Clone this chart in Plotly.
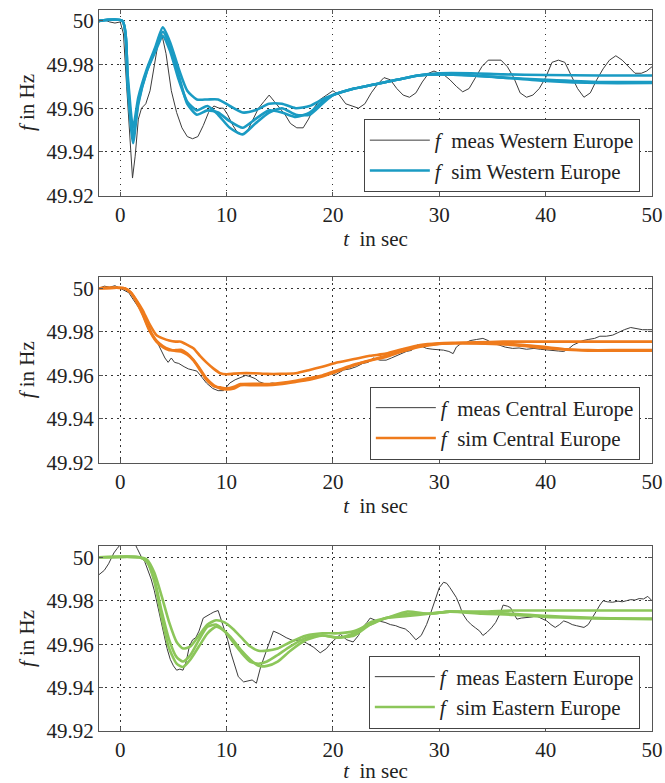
import plotly.graph_objects as go

# ---------------- data ----------------
# Western Europe
t_w_meas = [-2, -1.5, -1, -0.5, 0, 0.3, 0.6, 0.9, 1.15, 1.4, 1.7, 2.0, 2.4, 2.8, 3.2, 3.6, 3.9, 4.3, 4.8, 5.3,
            5.8, 6.3, 6.8, 7.3, 7.8, 8.3, 8.8, 9.3, 9.7, 10.1, 10.6, 11.0, 11.5, 12.0, 12.5, 13.0, 13.5, 14.0,
            14.5, 15.0, 15.5, 16.0, 16.6, 17.2, 17.7, 18.2, 18.8, 19.4, 20.0, 20.6, 21.2, 21.8, 22.4, 23.0,
            23.6, 24.2, 24.8, 25.4, 26.0, 26.6, 27.2, 27.8, 28.4, 29.0, 29.5, 30.0, 30.5, 31.0, 31.6, 32.2,
            32.8, 33.4, 34.0, 34.6, 35.2, 35.8, 36.4, 37.0, 37.6, 38.2, 38.8, 39.4, 40.0, 40.6, 41.2, 41.8,
            42.4, 43.0, 43.6, 44.2, 44.8, 45.4, 46.0, 46.6, 47.2, 47.8, 48.4, 49.0, 49.5, 50.0]
f_w_meas = [49.9995, 50.0005, 49.9995, 49.999, 49.9995, 49.994, 49.970, 49.945, 49.928, 49.938, 49.955, 49.960,
            49.962, 49.968, 49.980, 49.991, 49.994, 49.985, 49.968, 49.958, 49.951, 49.947, 49.946, 49.947,
            49.952, 49.958, 49.961, 49.960, 49.960, 49.957, 49.952, 49.949, 49.948, 49.950, 49.955, 49.960,
            49.963, 49.966, 49.963, 49.960, 49.957, 49.953, 49.951, 49.951, 49.955, 49.960, 49.964, 49.966,
            49.968, 49.966, 49.962, 49.961, 49.960, 49.962, 49.967, 49.971, 49.974, 49.973, 49.969, 49.966,
            49.965, 49.967, 49.972, 49.976, 49.977, 49.976, 49.975, 49.973, 49.970, 49.9675, 49.969, 49.974,
            49.979, 49.982, 49.982, 49.982, 49.979, 49.974, 49.967, 49.965, 49.966, 49.969, 49.974, 49.981,
            49.982, 49.981, 49.975, 49.969, 49.965, 49.967, 49.973, 49.978, 49.982, 49.984, 49.982, 49.979,
            49.976, 49.976, 49.977, 49.979]
t_w_sim = [-2, 0.2, 0.7, 1.2, 1.7, 2.5, 3.3, 4.0, 4.7, 5.5, 6.3, 7.2, 8.2, 9.2, 10.3, 11.5, 12.7, 14.0, 15.2,
           16.5, 17.8, 19, 20, 22, 24, 26, 28, 30, 33, 36, 40, 45, 50]
f_w_sim1 = [50, 50, 49.975, 49.951, 49.965, 49.978, 49.988, 49.997, 49.990, 49.978, 49.968, 49.964, 49.964,
            49.964, 49.961, 49.958, 49.959, 49.962, 49.962, 49.960, 49.961, 49.964, 49.966, 49.969, 49.971,
            49.973, 49.975, 49.976, 49.976, 49.9755, 49.9752, 49.975, 49.975]
f_w_sim2 = [50, 50, 49.970, 49.944, 49.962, 49.977, 49.987, 49.995, 49.988, 49.975, 49.962, 49.957, 49.959,
            49.958, 49.954, 49.951, 49.955, 49.959, 49.958, 49.956, 49.958, 49.963, 49.966, 49.969, 49.971,
            49.973, 49.975, 49.9755, 49.975, 49.974, 49.973, 49.972, 49.972]
f_w_sim3 = [50, 50, 49.972, 49.947, 49.963, 49.977, 49.986, 49.993, 49.986, 49.973, 49.963, 49.959, 49.961,
            49.957, 49.951, 49.948, 49.953, 49.958, 49.960, 49.957, 49.957, 49.962, 49.966, 49.969, 49.971,
            49.973, 49.975, 49.9755, 49.975, 49.974, 49.9725, 49.9715, 49.9715]

# Central Europe
t_c_meas = [-2, -1.5, -1, -0.5, 0, 0.4, 0.8, 1.2, 1.6, 2.1, 2.6, 3.0, 3.5, 3.9, 4.2, 4.5, 4.8, 5.1, 5.5, 6.0,
            6.4, 6.8, 7.2, 7.7, 8.1, 8.7, 9.2, 9.7, 10.3, 10.8, 11.4, 11.8, 12.2, 12.7, 13.1, 13.7, 14.3, 14.9,
            15.6, 16.4, 17.2, 17.8, 18.4, 19.0, 19.7, 20.3, 21.0, 21.6, 22.2, 22.8, 23.3, 23.8, 24.4, 25.0,
            25.5, 26.0, 26.5, 26.9, 27.4, 27.9, 28.3, 28.8, 29.4, 30.0, 30.4, 30.9, 31.3, 31.6, 32.0, 32.5,
            32.9, 33.5, 34.1, 34.6, 35.0, 35.6, 36.2, 36.9, 37.5, 38.2, 38.9, 39.5, 40.2, 40.7, 41.2, 41.7,
            42.1, 42.6, 43.1, 43.5, 44.0, 44.6, 45.1, 45.7, 46.3, 46.9, 47.4, 48.0, 48.5, 49.1, 49.6, 50.0]
f_c_meas = [50.0, 50.001, 50.0005, 50.0012, 50.0, 49.999, 49.998, 49.995, 49.992, 49.9885, 49.984, 49.979,
            49.975, 49.971, 49.968, 49.966, 49.968, 49.966, 49.9655, 49.964, 49.963, 49.9625, 49.962, 49.959,
            49.9565, 49.954, 49.953, 49.953, 49.9565, 49.958, 49.959, 49.960, 49.9595, 49.9585, 49.957, 49.956,
            49.9565, 49.956, 49.957, 49.957, 49.958, 49.9585, 49.9595, 49.960, 49.961, 49.9605, 49.9625,
            49.963, 49.964, 49.9655, 49.966, 49.968, 49.967, 49.967, 49.968, 49.969, 49.970, 49.971, 49.9715,
            49.974, 49.9735, 49.9724, 49.972, 49.9718, 49.9716, 49.971, 49.970, 49.973, 49.9745, 49.975, 49.976,
            49.9765, 49.977, 49.976, 49.9747, 49.974, 49.973, 49.9724, 49.9726, 49.972, 49.9724, 49.972,
            49.9718, 49.9716, 49.9712, 49.971, 49.972, 49.974, 49.975, 49.976, 49.9765, 49.977, 49.978, 49.978,
            49.9785, 49.980, 49.981, 49.982, 49.9815, 49.981, 49.981, 49.981]
t_c_sim = [-2, 0.4, 1.0, 1.6, 2.1, 2.7, 3.4, 4.0, 4.6, 5.2, 5.7, 6.3, 6.9, 7.5, 8.1, 8.8, 9.4, 10.0, 10.7, 11.3,
           12.5, 13.8, 15.0, 16.5, 17.8, 19.0, 20.5, 22.0, 23.5, 25.0, 26.5, 28.2, 30.0, 31.5, 33.5, 36.0,
           38.0, 40.0, 42.0, 44.0, 47.0, 50.0]
f_c_sim1 = [50, 50, 49.998, 49.994, 49.990, 49.984, 49.9785, 49.977, 49.976, 49.9755, 49.9755, 49.974, 49.9724,
            49.969, 49.966, 49.963, 49.961, 49.9605, 49.9608, 49.961, 49.961, 49.9607, 49.9607, 49.961, 49.9625,
            49.964, 49.966, 49.9675, 49.969, 49.970, 49.972, 49.974, 49.9748, 49.975, 49.9752, 49.9755,
            49.9755, 49.9755, 49.9755, 49.9755, 49.9755, 49.9755]
f_c_sim2 = [50, 50, 49.998, 49.993, 49.988, 49.981, 49.9755, 49.973, 49.9716, 49.9716, 49.9718, 49.970, 49.967,
            49.963, 49.9587, 49.9555, 49.954, 49.9535, 49.954, 49.9555, 49.9555, 49.9555, 49.956, 49.957,
            49.958, 49.9595, 49.962, 49.9647, 49.9668, 49.9685, 49.971, 49.9732, 49.9745, 49.9748, 49.9748,
            49.9745, 49.974, 49.973, 49.972, 49.9716, 49.9716, 49.9716]
f_c_sim3 = [50, 50, 49.998, 49.9935, 49.9885, 49.9815, 49.976, 49.9735, 49.972, 49.9712, 49.971, 49.9695,
            49.9668, 49.9625, 49.958, 49.955, 49.9545, 49.954, 49.9548, 49.956, 49.9562, 49.956, 49.9565,
            49.9575, 49.9588, 49.960, 49.9625, 49.965, 49.967, 49.969, 49.9712, 49.9734, 49.9746, 49.9748,
            49.9747, 49.9743, 49.9735, 49.9725, 49.9718, 49.9714, 49.9714, 49.9714]

# Eastern Europe
t_e_meas = [-2, -1.5, -1.1, -0.6, -0.3, 0.2, 0.8, 1.3, 1.6, 2.0, 2.3, 2.6, 2.9, 3.2, 3.5, 3.8, 4.1, 4.4, 4.7,
            5.0, 5.3, 5.6, 5.9, 6.2, 6.5, 6.8, 7.1, 7.4, 7.8, 8.1, 8.5, 8.8, 9.2, 9.5, 9.8, 10.1, 10.4, 10.7,
            11.1, 11.6, 12.0, 12.4, 12.8, 13.2, 13.6, 14.0, 14.4, 15.0, 15.6, 16.3, 16.9, 17.5, 18.2, 18.8,
            19.4, 19.8, 20.2, 20.7, 21.3, 21.9, 22.4, 22.8, 23.2, 23.5, 24.0, 24.4, 24.9, 25.4, 25.9, 26.3,
            26.8, 27.2, 27.8, 28.3, 28.8, 29.1, 29.4, 29.7, 30.0, 30.4, 30.7, 31.0, 31.3, 31.6, 31.9, 32.2,
            32.6, 33.0, 33.4, 33.8, 34.1, 34.5, 34.9, 35.3, 35.7, 36.0, 36.4, 36.7, 37.0, 37.3, 37.7, 38.2,
            38.7, 39.1, 39.6, 40.1, 40.5, 40.9, 41.3, 41.7, 42.1, 42.5, 42.9, 43.3, 43.6, 44.0, 44.4, 44.8,
            45.1, 45.4, 45.8, 46.3, 46.8, 47.2, 47.6, 48.0, 48.4, 48.8, 49.2, 49.6, 50.0]
f_e_meas = [49.992, 49.994, 49.997, 50.002, 50.004, 50.007, 50.008, 50.007, 50.004, 50.0, 49.998, 49.994,
            49.990, 49.9847, 49.978, 49.971, 49.964, 49.958, 49.953, 49.950, 49.948, 49.9485, 49.948, 49.952,
            49.959, 49.962, 49.963, 49.966, 49.972, 49.973, 49.974, 49.9748, 49.9755, 49.971, 49.967, 49.962,
            49.956, 49.951, 49.945, 49.9426, 49.943, 49.9435, 49.942, 49.9495, 49.955, 49.961, 49.966,
            49.9647, 49.963, 49.9615, 49.962, 49.9605, 49.9585, 49.956, 49.958, 49.9605, 49.9625, 49.9645,
            49.962, 49.961, 49.964, 49.9677, 49.970, 49.972, 49.971, 49.9707, 49.970, 49.969, 49.9685,
            49.9677, 49.967, 49.9654, 49.962, 49.964, 49.969, 49.973, 49.977, 49.981, 49.986, 49.9885, 49.988,
            49.986, 49.984, 49.9815, 49.978, 49.974, 49.971, 49.969, 49.9675, 49.966, 49.964, 49.9655,
            49.9675, 49.970, 49.974, 49.978, 49.9775, 49.9768, 49.974, 49.9715, 49.972, 49.9722, 49.9725,
            49.973, 49.972, 49.9707, 49.969, 49.9677, 49.969, 49.9707, 49.970, 49.969, 49.9685, 49.968,
            49.9677, 49.969, 49.972, 49.9755, 49.978, 49.980, 49.9795, 49.9793, 49.9798, 49.9795, 49.980,
            49.9805, 49.9803, 49.981, 49.9808, 49.982, 49.980]
t_e_sim = [-2, 1.8, 2.5, 3.2, 3.9, 4.6, 5.3, 5.9, 6.6, 7.4, 8.2, 9.0, 9.8, 10.6, 11.4, 12.2, 13.0, 13.8, 14.8,
           16, 17.5, 19, 20.5, 22, 23.5, 25, 27, 29, 31, 34, 37, 40, 45, 50]
f_e_sim1 = [50, 50, 49.999, 49.993, 49.982, 49.970, 49.961, 49.958, 49.959, 49.964, 49.969, 49.971, 49.970,
            49.967, 49.963, 49.959, 49.957, 49.957, 49.958, 49.961, 49.964, 49.965, 49.965, 49.966, 49.969,
            49.972, 49.974, 49.974, 49.975, 49.975, 49.9755, 49.9755, 49.9755, 49.9755]
f_e_sim2 = [50, 50, 49.998, 49.990, 49.975, 49.962, 49.954, 49.952, 49.955, 49.962, 49.968, 49.969, 49.966,
            49.961, 49.956, 49.952, 49.951, 49.952, 49.955, 49.959, 49.963, 49.964, 49.963, 49.965, 49.970,
            49.972, 49.975, 49.974, 49.975, 49.9745, 49.974, 49.973, 49.972, 49.9718]
f_e_sim3 = [50, 50, 49.998, 49.989, 49.972, 49.958, 49.951, 49.9495, 49.953, 49.959, 49.965, 49.968, 49.966,
            49.962, 49.957, 49.953, 49.950, 49.950, 49.952, 49.957, 49.962, 49.964, 49.963, 49.964, 49.969,
            49.972, 49.973, 49.974, 49.975, 49.974, 49.9735, 49.9725, 49.9718, 49.9715]

regions = ["Western Europe", "Central Europe", "Eastern Europe"]
sim_colors = ["#1a9bc3", "#ef7b1c", "#8cc65a"]
x_ticks = [0, 10, 20, 30, 40, 50]
y_ticks = [49.92, 49.94, 49.96, 49.98, 50.0]
y_tick_labels = ["49.92", "49.94", "49.96", "49.98", "50"]

panels = [
    (t_w_meas, f_w_meas, t_w_sim, [f_w_sim1, f_w_sim2, f_w_sim3]),
    (t_c_meas, f_c_meas, t_c_sim, [f_c_sim1, f_c_sim2, f_c_sim3]),
    (t_e_meas, f_e_meas, t_e_sim, [f_e_sim1, f_e_sim2, f_e_sim3]),
]

# ---------------- figure ----------------
W, H = 665, 783
ML, MR, MT, MB = 99, 13, 9, 52
plot_h = H - MT - MB
panel_px = [(9.5, 195.5), (277, 462.5), (546, 731)]
domains = [[1 - (b - MT) / plot_h, 1 - (t - MT) / plot_h] for t, b in panel_px]
domains = [[max(0, d0), min(1, d1)] for d0, d1 in domains]

FONT = "Liberation Serif, Times New Roman, serif"
TXT = "#222222"
fig = go.Figure()
legend_names = ["legend", "legend2", "legend3"]

for i, (tm, fm, ts, sims) in enumerate(panels):
    xa = "x" if i == 0 else f"x{i+1}"
    ya = "y" if i == 0 else f"y{i+1}"
    fig.add_trace(go.Scatter(x=tm, y=fm, mode="lines", xaxis=xa, yaxis=ya,
                             line=dict(color="#3c3c3c", width=1),
                             name=f"<i>f</i>  meas {regions[i]}", legend=legend_names[i]))
    for k, s in enumerate(sims):
        fig.add_trace(go.Scatter(x=ts, y=s, mode="lines", xaxis=xa, yaxis=ya,
                                 line=dict(color=sim_colors[i], width=2.6, shape="spline", smoothing=0.6),
                                 name=f"<i>f</i>  sim {regions[i]}", legend=legend_names[i],
                                 showlegend=(k == 0)))

axis_common = dict(showline=True, linecolor="#555555", linewidth=1, mirror="ticks",
                   ticks="inside", ticklen=4, tickcolor="#555555",
                   showgrid=True, gridcolor="#333333", griddash="1.5px,4.5px", gridwidth=1.2,
                   zeroline=False, tickfont=dict(family=FONT, size=21, color=TXT))

layout = dict(width=W, height=H, margin=dict(l=ML, r=MR, t=MT, b=MB),
              paper_bgcolor="white", plot_bgcolor="white",
              font=dict(family=FONT, size=21, color=TXT))

legend_center_px = [155.5, 423, 692]
legend_y = [1 - (c - MT) / plot_h for c in legend_center_px]
for i in range(3):
    sx = "" if i == 0 else str(i + 1)
    layout[f"xaxis{sx}"] = dict(axis_common, range=[-2, 50], tickvals=x_ticks,
                                anchor=f"y{sx}", domain=[0, 1], automargin=False,
                                title=dict(text="<i>t</i>  in sec", standoff=2,
                                           font=dict(family=FONT, size=21, color=TXT)))
    layout[f"yaxis{sx}"] = dict(axis_common, range=[49.92, 50.0052], tickvals=y_ticks,
                                ticktext=y_tick_labels, anchor=f"x{sx}", domain=domains[i],
                                automargin=False,
                                title=dict(text="<i>f</i> in Hz", standoff=6,
                                           font=dict(family=FONT, size=21, color=TXT)))
    layout[legend_names[i]] = dict(x=0.978, xanchor="right", y=legend_y[i], yanchor="middle",
                                   bgcolor="white", bordercolor="#444444", borderwidth=1,
                                   font=dict(family=FONT, size=21, color=TXT),
                                   itemwidth=60, tracegroupgap=0)

fig.update_layout(**layout)
fig.write_html("out.html", config={"displayModeBar": False},
               post_script="document.body.style.margin='0px';")
